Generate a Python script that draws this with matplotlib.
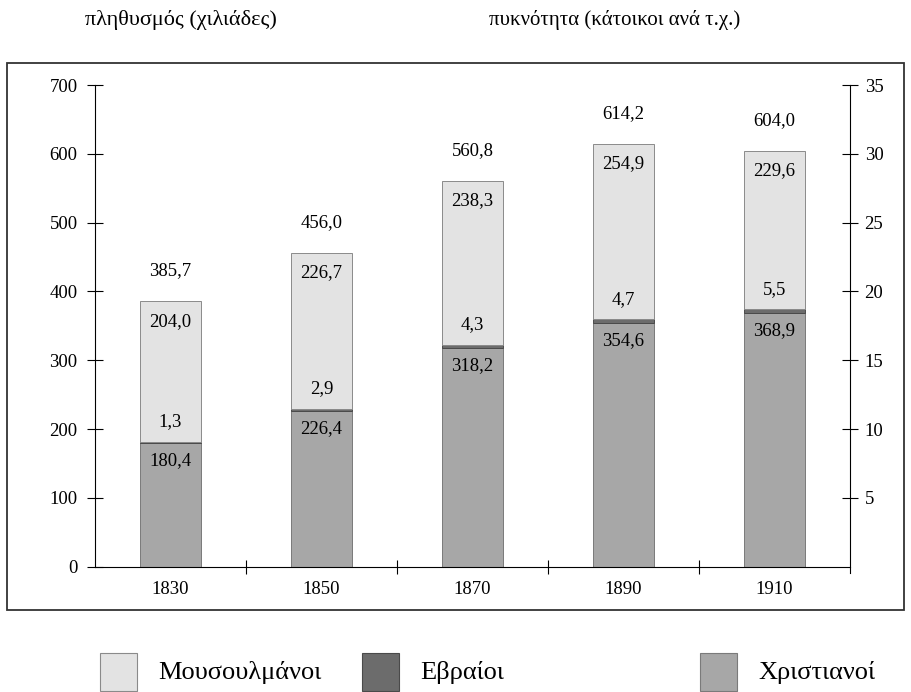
import matplotlib.pyplot as plt
from matplotlib.patches import Rectangle
import numpy as np

plt.rcParams['font.family'] = ['Liberation Serif', 'DejaVu Serif']

years = ['1830', '1850', '1870', '1890', '1910']
christians = [180.4, 226.4, 318.2, 354.6, 368.9]
jews = [1.3, 2.9, 4.3, 4.7, 5.5]
muslims = [204.0, 226.7, 238.3, 254.9, 229.6]
totals = [385.7, 456.0, 560.8, 614.2, 604.0]

c_mus = '#e3e3e3'
c_jew = '#6c6c6c'
c_chr = '#a7a7a7'

def fmt(v):
    return ('%.1f' % v).replace('.', ',')

W, H = 911, 692
fig = plt.figure(figsize=(W/100, H/100), dpi=100)
ax = fig.add_axes([95/W, 1-566.7/H, 755/W, 481.7/H])

x = np.arange(len(years))
w = 0.4
chr_arr = np.array(christians)
jew_arr = np.array(jews)
ax.bar(x, christians, w, color=c_chr, edgecolor='#7a7a7a', linewidth=0.7)
ax.bar(x, jews, w, bottom=chr_arr, color=c_jew, edgecolor='#4a4a4a', linewidth=0.7)
ax.bar(x, muslims, w, bottom=chr_arr + jew_arr, color=c_mus, edgecolor='#8a8a8a', linewidth=0.7)

fs = 13.5
for i in range(len(years)):
    c = christians[i]
    j = jews[i]
    m = muslims[i]
    ax.text(x[i], c - 26, fmt(c), ha='center', va='center', fontsize=fs)
    ax.text(x[i], c + j + 29, fmt(j), ha='center', va='center', fontsize=fs)
    ax.text(x[i], c + j + m - 29, fmt(m), ha='center', va='center', fontsize=fs)
    ax.text(x[i], min(totals[i] + 44, 659), fmt(totals[i]), ha='center', va='center', fontsize=fs)

ax.set_xlim(-0.5, 4.5)
ax.set_ylim(0, 700)
ax.set_yticks(range(0, 701, 100))
ax.set_xticks(x)
ax.set_xticklabels(years)
ax.set_xticks([0.5, 1.5, 2.5, 3.5], minor=True)
ax.tick_params(axis='x', which='major', length=0, labelsize=fs, pad=10)
ax.tick_params(axis='x', which='minor', length=10, width=0.8, direction='inout')
ax.tick_params(axis='y', length=11, width=0.8, direction='inout', labelsize=fs, pad=7)
for s in ['top', 'right']:
    ax.spines[s].set_visible(False)
for s in ['left', 'bottom']:
    ax.spines[s].set_linewidth(0.8)

ax2 = ax.twinx()
ax2.set_ylim(0, 35)
ax2.set_yticks(range(5, 36, 5))
ax2.tick_params(axis='y', length=11, width=0.8, direction='inout', labelsize=fs, pad=5)
for s in ['top', 'left', 'bottom']:
    ax2.spines[s].set_visible(False)
ax2.spines['right'].set_linewidth(0.8)
ax2.spines['right'].set_bounds(-0.45, 35)

# outer frame
fig.add_artist(Rectangle((7/W, 1-610/H), 897/W, 547/H, transform=fig.transFigure,
                         fill=False, edgecolor='#333333', linewidth=1.3))

fig.text(181/W, 1-20/H, 'πληθυσμός (χιλιάδες)', ha='center', va='center', fontsize=16)
fig.text(615/W, 1-20/H, 'πυκνότητα (κάτοικοι ανά τ.χ.)', ha='center', va='center', fontsize=15)

# legend
labels = ['Μουσουλμάνοι', 'Εβραίοι', 'Χριστιανοί']
colors = [c_mus, c_jew, c_chr]
edges = ['#8a8a8a', '#4a4a4a', '#7a7a7a']
patch_x = [100, 362, 700]
for lab, col, ec, px in zip(labels, colors, edges, patch_x):
    fig.add_artist(Rectangle((px/W, 1-691/H), 37/W, 38/H, transform=fig.transFigure,
                             facecolor=col, edgecolor=ec, linewidth=0.8))
    fig.text((px + 58)/W, 1-672/H, lab, ha='left', va='center', fontsize=19)

fig.savefig('out.png', dpi=100)
